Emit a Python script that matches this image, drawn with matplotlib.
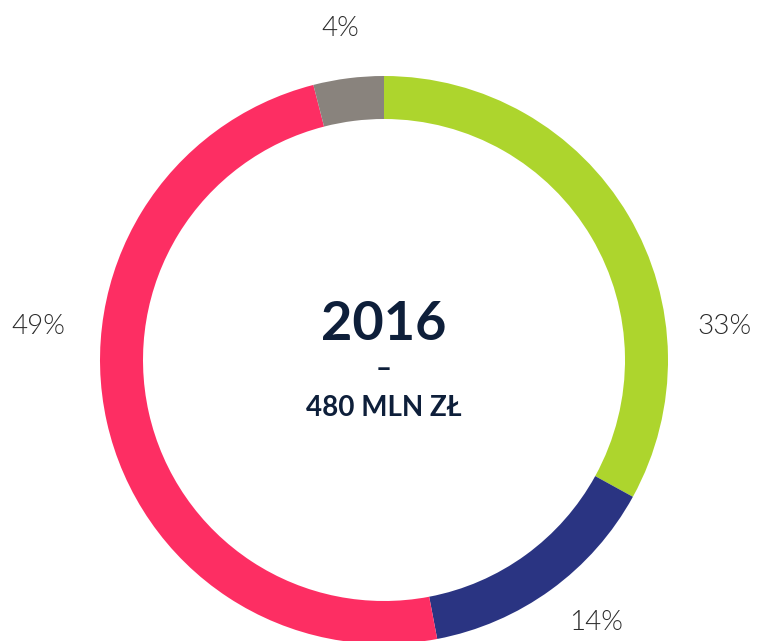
import matplotlib.pyplot as plt
from matplotlib import font_manager

shares = [33, 14, 49, 4]
labels = ['33%', '14%', '49%', '4%']
colors = ['#add52d', '#2a3482', '#fd2e63', '#89837d']
year = '2016'
total = '480 MLN ZŁ'

W, H = 757, 641
CX, CY = 384, H - 360
R_OUT, WIDTH = 284, 43

# label anchors (pixels, y from top)
label_pos = [(724, 326), (596, 622), (38, 326), (340, 28)]

fonts = font_manager.fontManager.ttflist
names = {f.name for f in fonts}
family = 'Lato' if 'Lato' in names else 'DejaVu Sans'
lato_weights = sorted({f.weight for f in fonts if f.name == 'Lato'}, key=str)
label_weight = 300 if 300 in lato_weights or 'light' in lato_weights else 'normal'


def main():
    fig = plt.figure(figsize=(W / 100, H / 100), dpi=100)
    ax = fig.add_axes([0, 0, 1, 1])
    ax.pie(shares, colors=colors, startangle=90, counterclock=False,
           center=(CX, CY), radius=R_OUT,
           wedgeprops=dict(width=WIDTH, linewidth=0))
    ax.set_xlim(0, W)
    ax.set_ylim(0, H)
    ax.set_aspect('equal')
    ax.axis('off')

    for text, (x, y) in zip(labels, label_pos):
        ax.text(x, H - y, text, ha='center', va='center', fontsize=20,
                family=family, fontweight=label_weight, color='#2b2b2b')

    navy = '#0e1f3a'
    ax.text(CX, H - 324, year, ha='center', va='center', fontsize=39,
            family=family, fontweight='bold', color=navy)
    ax.text(CX, H - 369, '–', ha='center', va='center', fontsize=20,
            family=family, fontweight='bold', color=navy)
    ax.text(CX, H - 408, total, ha='center', va='center', fontsize=20,
            family=family, fontweight='bold', color=navy)

    fig.savefig('out.png', dpi=100)


if __name__ == '__main__':
    main()
